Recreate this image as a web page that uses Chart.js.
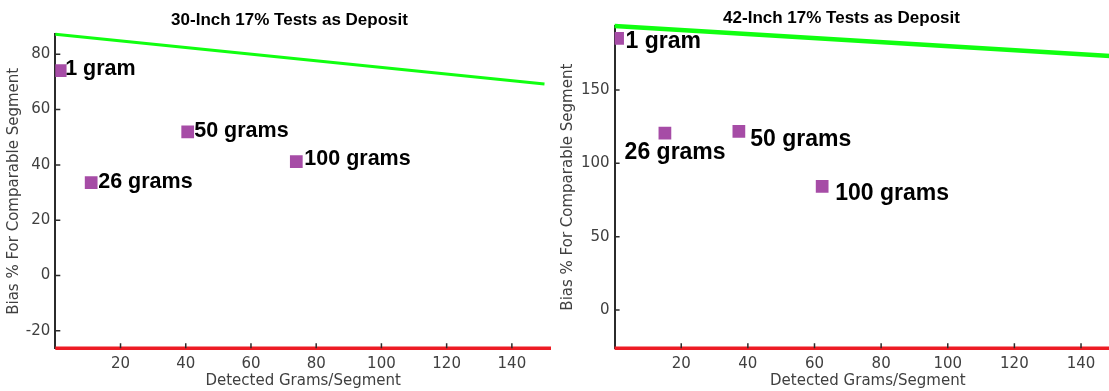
<!DOCTYPE html>
<html>
<head>
<meta charset="utf-8">
<script src="https://cdn.jsdelivr.net/npm/chart.js@4.4.1/dist/chart.umd.min.js"></script>
<style>
  html, body { margin: 0; padding: 0; background: #fff; overflow: hidden; }
  body { width: 1109px; height: 391px; position: relative; }
  canvas { position: absolute; top: 0; }
  #left { left: 0; }
  #right { left: 555px; }
</style>
</head>
<body>
<canvas id="left" width="560" height="391"></canvas>
<canvas id="right" width="575" height="391"></canvas>
<script>
// tick labels
const xTicks = [20, 40, 60, 80, 100, 120, 140];
const leftYTicks = [-20, 0, 20, 40, 60, 80];
const rightYTicks = [0, 50, 100, 150];

// axis ranges
const xRange = [0, 152];
const leftYRange = [-26.3, 87.2];
const rightYRange = [-26.1, 193.6];

// sample names
const massLabels = ["1 gram", "26 grams", "50 grams", "100 grams"];

// 30-inch points
const leftX = [1.5, 11.0, 40.6, 73.9];
const leftY = [74.1, 33.6, 51.9, 41.2];

// 42-inch points
const rightX = [0.9, 15.1, 37.3, 62.3];
const rightY = [185.1, 120.5, 121.8, 84.3];

// green limit lines
const limitX = [0, 150];
const leftLimitY = [87.2, 69.2];
const rightLimitY = [193.6, 173.0];

// red floor lines
const floorX = [0, 152];
const leftFloorY = [-26.3, -26.3];
const rightFloorY = [-26.1, -26.1];

const tickFont = { family: "'DejaVu Sans', sans-serif", size: 15 };
const greyText = "#404040";
const axisColor = "#2b2b2b";

function makeChart(id, cfg) {
  const canvas = document.getElementById(id);
  const height = canvas.height;

  // draws title, inward ticks and the point labels
  const extras = {
    id: "extras_" + id,
    afterDatasetsDraw(chart) {
      const ctx = chart.ctx;
      const xs = chart.scales.x, ys = chart.scales.y;
      const area = chart.chartArea;
      ctx.save();
      ctx.strokeStyle = axisColor;
      ctx.lineWidth = 1.5;
      ctx.beginPath();
      xTicks.forEach(v => {
        const px = xs.getPixelForValue(v);
        ctx.moveTo(px, area.bottom);
        ctx.lineTo(px, area.bottom - 5);
      });
      cfg.yTicks.forEach(v => {
        const py = ys.getPixelForValue(v);
        ctx.moveTo(area.left, py);
        ctx.lineTo(area.left + 5, py);
      });
      ctx.stroke();

      ctx.fillStyle = "#000";
      ctx.textBaseline = "alphabetic";
      ctx.textAlign = "left";
      ctx.font = "bold " + cfg.labelSize + "px 'Liberation Sans', Arial, sans-serif";
      massLabels.forEach((txt, i) => {
        const px = xs.getPixelForValue(cfg.xs[i]) + cfg.labelOffsets[i][0];
        const py = ys.getPixelForValue(cfg.ys[i]) + cfg.labelOffsets[i][1];
        ctx.fillText(txt, px, py);
      });

      ctx.textAlign = "center";
      ctx.font = "bold 17px 'Liberation Sans', Arial, sans-serif";
      ctx.fillText(cfg.title, cfg.titleX, cfg.titleY);
      ctx.restore();
    }
  };

  return new Chart(canvas, {
    type: "scatter",
    data: {
      datasets: [
        {
          data: cfg.xs.map((x, i) => ({ x: x, y: cfg.ys[i] })),
          pointStyle: "rect",
          pointRadius: 9,
          pointHoverRadius: 9,
          backgroundColor: "#a64ca6",
          borderWidth: 0
        },
        {
          type: "line",
          data: limitX.map((x, i) => ({ x: x, y: cfg.limitY[i] })),
          borderColor: "#10ff10",
          borderWidth: cfg.limitWidth,
          pointRadius: 0,
          clip: false
        },
        {
          type: "line",
          data: floorX.map((x, i) => ({ x: x, y: cfg.floorY[i] })),
          borderColor: "#ed1c24",
          borderWidth: 3.5,
          pointRadius: 0,
          clip: false
        }
      ]
    },
    options: {
      responsive: false,
      animation: false,
      layout: {
        padding: { top: cfg.area.top, right: canvas.width - cfg.area.right, left: 0, bottom: 0 }
      },
      plugins: { legend: { display: false }, tooltip: { enabled: false } },
      scales: {
        x: {
          type: "linear",
          min: xRange[0],
          max: xRange[1],
          afterBuildTicks: s => { s.ticks = xTicks.map(v => ({ value: v })); },
          afterFit: s => { s.height = height - cfg.area.bottom; },
          grid: { display: false, drawTicks: false },
          border: { display: false },
          ticks: { padding: 7, font: tickFont, color: greyText, maxRotation: 0, autoSkip: false },
          title: {
            display: true,
            text: "Detected Grams/Segment",
            font: tickFont,
            color: greyText,
            padding: { top: 0, bottom: 1 }
          }
        },
        y: {
          type: "linear",
          min: cfg.yRange[0],
          max: cfg.yRange[1],
          afterBuildTicks: s => { s.ticks = cfg.yTicks.map(v => ({ value: v })); },
          afterFit: s => { s.width = cfg.area.left; },
          grid: { display: false, drawTicks: false },
          border: { display: true, color: axisColor, width: 2 },
          ticks: { padding: 5, font: tickFont, color: greyText, autoSkip: false },
          title: {
            display: true,
            text: "Bias % For Comparable Segment",
            font: tickFont,
            color: greyText,
            padding: { top: cfg.yTitlePad, bottom: 0 }
          }
        }
      }
    },
    plugins: [extras]
  });
}

makeChart("left", {
  title: "30-Inch 17% Tests as Deposit",
  titleX: 289.5,
  titleY: 24.5,
  xs: leftX,
  ys: leftY,
  yRange: leftYRange,
  yTicks: leftYTicks,
  limitY: leftLimitY,
  floorY: leftFloorY,
  area: { left: 55.3, right: 554.3, top: 34.3, bottom: 348.3 },
  labelOffsets: [[5, 4.5], [7, 5.7], [6.5, 5], [8, 3]],
  labelSize: 21.5,
  limitWidth: 3,
  yTitlePad: 5
});

makeChart("right", {
  title: "42-Inch 17% Tests as Deposit",
  titleX: 286.5,
  titleY: 23.4,
  xs: rightX,
  ys: rightY,
  yRange: rightYRange,
  yTicks: rightYTicks,
  limitY: rightLimitY,
  floorY: rightFloorY,
  area: { left: 59.6, right: 569.6, top: 26, bottom: 348.3 },
  labelOffsets: [[8, 9.3], [-40.3, 26], [11.4, 14.7], [13, 13.7]],
  labelSize: 23,
  limitWidth: 4.5,
  yTitlePad: 4.5
});
</script>
</body>
</html>
